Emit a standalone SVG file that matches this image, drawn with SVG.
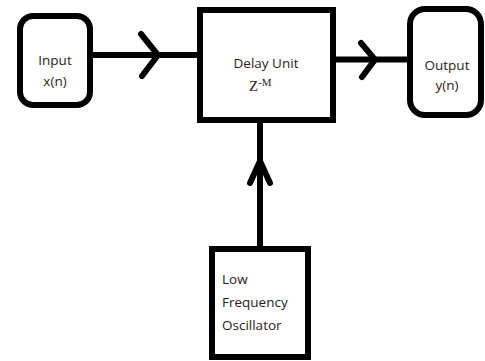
<svg xmlns="http://www.w3.org/2000/svg" width="485" height="361" viewBox="0 0 485 361">
  <style>
    .box { fill: #ffffff; stroke: #000000; stroke-width: 6; }
    .wire { fill: none; stroke: #000000; stroke-width: 6; stroke-linecap: butt; }
    .head { fill: none; stroke: #000000; stroke-width: 6; stroke-linecap: round; stroke-linejoin: miter; }
    .label { font-family: "Open Sans", "Liberation Sans", sans-serif; font-size: 13.5px; fill: #2a2218; }
    .math { font-family: "Liberation Serif", serif; font-size: 15px; fill: #2a2218; }
  </style>
  <rect width="485" height="361" fill="#ffffff"/>

  <!-- signal path wires and chevron arrowheads -->
  <g id="connectors">
    <line class="wire" x1="92" y1="55" x2="200" y2="55"/>
    <polyline class="head" points="141,34 158,55 142,76"/>
    <line class="wire" x1="333" y1="59.5" x2="410" y2="59.5"/>
    <polyline class="head" points="361,43 375,59.5 362,77"/>
    <line class="wire" x1="260" y1="120" x2="260" y2="249"/>
    <polyline class="head" points="250,183 260,161 270,183"/>
  </g>

  <g id="input">
    <rect class="box" x="20" y="16" width="70" height="89" rx="13"/>
    <text class="label" x="55" y="65" text-anchor="middle">Input</text>
    <text class="label" x="55" y="86" text-anchor="middle">x(n)</text>
  </g>

  <g id="delay">
    <rect class="box" x="200" y="10" width="133" height="110"/>
    <text class="label" x="266" y="68" text-anchor="middle">Delay Unit</text>
    <text class="math" x="249" y="91">Z<tspan font-size="11" dy="-5">-M</tspan></text>
  </g>

  <g id="output">
    <rect class="box" x="410" y="9" width="71" height="106" rx="15"/>
    <text class="label" x="447" y="70" text-anchor="middle">Output</text>
    <text class="label" x="447" y="90" text-anchor="middle">y(n)</text>
  </g>

  <g id="oscillator">
    <rect class="box" x="212" y="249" width="96" height="108"/>
    <text class="label" x="222" y="284">Low</text>
    <text class="label" x="222" y="307">Frequency</text>
    <text class="label" x="222" y="330">Oscillator</text>
  </g>
</svg>
